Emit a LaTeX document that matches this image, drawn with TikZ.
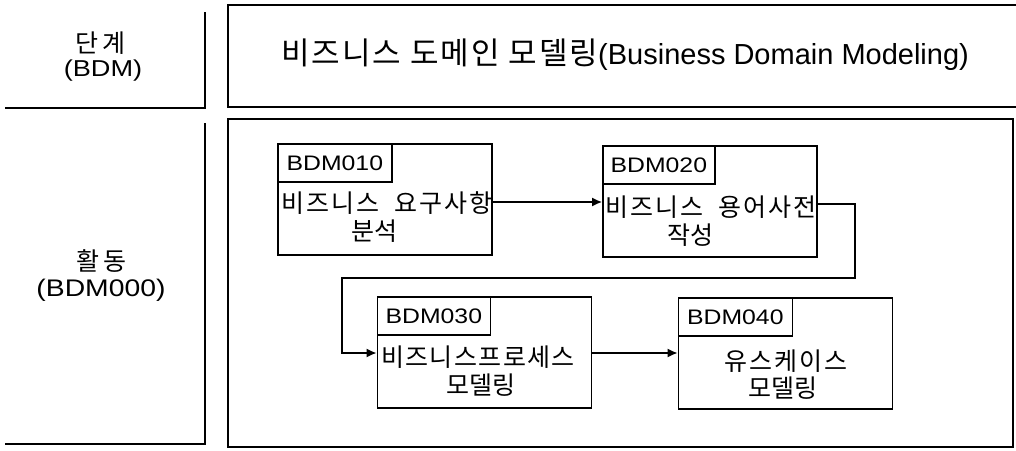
\documentclass[tikz,border=0pt]{standalone}
\usepackage{fontspec}
\setmainfont{Liberation Sans}
\newfontfamily\krfont{Noto Sans CJK KR}
\newfontfamily\latw{Liberation Sans}[FakeStretch=1.18]
\usetikzlibrary{arrows.meta}
\newcommand\kgap{\kern2pt}
\newcommand\kgapb{\kern1.4pt}
\begin{document}
\begin{tikzpicture}[x=1pt,y=-1pt,
  frame/.style={line width=2.4pt},
  actbox/.style={draw, line width=1.7pt, minimum width=214pt, minimum height=111pt, inner sep=0pt},
  idbox/.style={draw, line width=1.4pt, anchor=north west, inner sep=0pt, minimum height=38pt,
    font=\latw\fontsize{21}{24}\selectfont},
  ktext/.style={font=\krfont\fontsize{25}{28}\selectfont, inner sep=0pt},
  conn/.style={line width=1.7pt, -{Latex[length=10pt,width=9pt]}}]
\useasboundingbox (0,0) rectangle (1016,450);

% left column
\draw[frame] (205,12) -- (205,108) -- (5,108);
\draw[frame] (205,123) -- (205,444) -- (5,444);
\node[inner sep=0pt, font=\krfont\fontsize{25}{28}\selectfont] (stage) at (100,43) {단\kern4pt 계};
\node[inner sep=0pt, font=\latw\fontsize{23}{26}\selectfont] (stagecode) at (103,71) {(BDM)};
\node[inner sep=0pt, font=\krfont\fontsize{25}{28}\selectfont] (act) at (101,261) {활\kern4pt 동};
\node[inner sep=0pt, font=\latw\fontsize{24}{27}\selectfont] (actcode) at (101,290) {(BDM000)};

% header box
\draw[frame] (1016,5) -- (228,5) -- (228,107) -- (1016,107);
\node[inner sep=0pt] (head) at (625,55)
  {{\krfont\fontsize{31}{34}\selectfont 비\kgap 즈\kgap 니\kgap 스 \kgap 도\kgap 메\kgap 인 \kgap 모\kgap 델\kgap 링}{\fontsize{29}{32}\selectfont(Business Domain Modeling)}};

% activity frame
\draw[frame] (228,119) rectangle (1013,447);

% box 1
\node[actbox] (b1) at (385,199.5) {};
\node[idbox, minimum width=114pt] (l1) at (b1.north west) {BDM010};
\node[ktext] (t1a) at (387,203) {비\kgap 즈\kgap 니\kgap 스\hspace{15pt}요\kgap 구\kgap 사\kgap 항};
\node[ktext] (t1b) at (374,231) {분석};

% box 2
\node[actbox] (b2) at (710,201.5) {};
\node[idbox, minimum width=112pt] (l2) at (b2.north west) {BDM020};
\node[ktext] (t2a) at (711,207) {비\kgap 즈\kgap 니\kgap 스\hspace{15pt}용\kgap 어\kgap 사\kgap 전};
\node[ktext] (t2b) at (690,235) {작성};

% box 3
\node[actbox] (b3) at (484.5,352.5) {};
\node[idbox, minimum width=113pt] (l3) at (b3.north west) {BDM030};
\node[ktext] (t3a) at (478,357) {비\kgapb 즈\kgapb 니\kgapb 스\kgapb 프\kgapb 로\kgapb 세\kgapb 스};
\node[ktext] (t3b) at (481,385) {모델링};

% box 4
\node[actbox] (b4) at (785.5,353.5) {};
\node[idbox, minimum width=114pt] (l4) at (b4.north west) {BDM040};
\node[ktext] (t4a) at (786,361) {유\kgap 스\kgap 케\kgap 이\kgap 스};
\node[ktext] (t4b) at (783,388) {모델링};

% connectors
\coordinate (a1) at (0,202);
\coordinate (a2) at (0,204);
\coordinate (k1) at (855,278);
\coordinate (k2) at (342,278);
\coordinate (a3) at (0,353);
\draw[conn] (b1.east |- a1) -- (b2.west |- a1);
\draw[conn] (b2.east |- a2) -| (k1) -- (k2) |- (b3.west |- a3);
\draw[conn] (b3.east |- a3) -- (b4.west |- a3);
\end{tikzpicture}
\end{document}
